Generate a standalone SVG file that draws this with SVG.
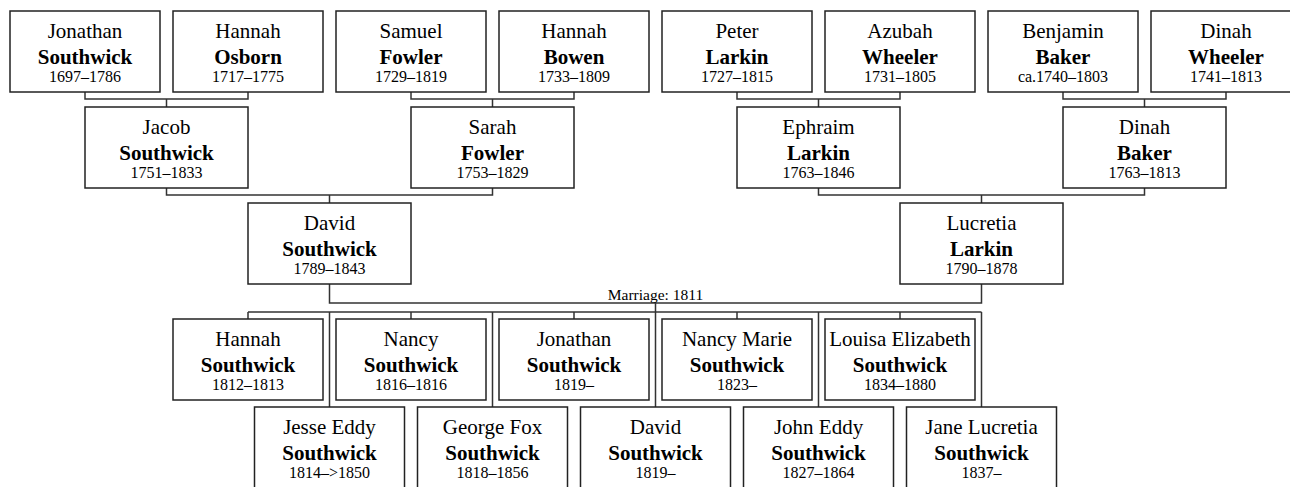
<svg xmlns="http://www.w3.org/2000/svg" width="1290" height="487" viewBox="0 0 1290 487">
<style>
.box{fill:#fff;stroke:#222;stroke-width:1.5}
.ln{fill:none;stroke:#333;stroke-width:1.5}
text{font-family:"Liberation Serif","Times New Roman",serif;fill:#000;text-anchor:middle}
.fn{font-size:21px}
.sn{font-size:21px;font-weight:bold}
.dt{font-size:16px}
.lbl{font-size:15.5px}
</style>
<rect width="1290" height="487" fill="#fff"/>
<g id="connectors">
<path class="ln" d="M85,92V99H248V92M166.5,99V107"/>
<path class="ln" d="M411,92V99H574V92M492.5,99V107"/>
<path class="ln" d="M737,92V99H900V92M818.5,99V107"/>
<path class="ln" d="M1063,92V99H1226V92M1144.5,99V107"/>
<path class="ln" d="M166.5,188V195H492.5V188M329.5,195V203"/>
<path class="ln" d="M818.5,188V195H1144.5V188M981.5,195V203"/>
<path class="ln" d="M329.5,284V303H981.5V284M655.5,303V312"/>
<path class="ln" d="M248,312H981.5"/>
<path class="ln" d="M248,312V319M411,312V319M574,312V319M737,312V319M900,312V319"/>
<path class="ln" d="M329.5,312V407M492.5,312V407M655.5,312V407M818.5,312V407M981.5,312V407"/>
<text class="lbl" x="655.5" y="300">Marriage: 1811</text>
</g>
<g id="n1"><rect class="box" x="10" y="11" width="150" height="81"/><text class="fn" x="85" y="37.5">Jonathan</text><text class="sn" x="85" y="63.5">Southwick</text><text class="dt" x="85" y="82">1697–1786</text></g>
<g id="n2"><rect class="box" x="173" y="11" width="150" height="81"/><text class="fn" x="248" y="37.5">Hannah</text><text class="sn" x="248" y="63.5">Osborn</text><text class="dt" x="248" y="82">1717–1775</text></g>
<g id="n3"><rect class="box" x="336" y="11" width="150" height="81"/><text class="fn" x="411" y="37.5">Samuel</text><text class="sn" x="411" y="63.5">Fowler</text><text class="dt" x="411" y="82">1729–1819</text></g>
<g id="n4"><rect class="box" x="499" y="11" width="150" height="81"/><text class="fn" x="574" y="37.5">Hannah</text><text class="sn" x="574" y="63.5">Bowen</text><text class="dt" x="574" y="82">1733–1809</text></g>
<g id="n5"><rect class="box" x="662" y="11" width="150" height="81"/><text class="fn" x="737" y="37.5">Peter</text><text class="sn" x="737" y="63.5">Larkin</text><text class="dt" x="737" y="82">1727–1815</text></g>
<g id="n6"><rect class="box" x="825" y="11" width="150" height="81"/><text class="fn" x="900" y="37.5">Azubah</text><text class="sn" x="900" y="63.5">Wheeler</text><text class="dt" x="900" y="82">1731–1805</text></g>
<g id="n7"><rect class="box" x="988" y="11" width="150" height="81"/><text class="fn" x="1063" y="37.5">Benjamin</text><text class="sn" x="1063" y="63.5">Baker</text><text class="dt" x="1063" y="82">ca.1740–1803</text></g>
<g id="n8"><rect class="box" x="1151" y="11" width="150" height="81"/><text class="fn" x="1226" y="37.5">Dinah</text><text class="sn" x="1226" y="63.5">Wheeler</text><text class="dt" x="1226" y="82">1741–1813</text></g>
<g id="n9"><rect class="box" x="85" y="107" width="163" height="81"/><text class="fn" x="166.5" y="133.5">Jacob</text><text class="sn" x="166.5" y="159.5">Southwick</text><text class="dt" x="166.5" y="178">1751–1833</text></g>
<g id="n10"><rect class="box" x="411" y="107" width="163" height="81"/><text class="fn" x="492.5" y="133.5">Sarah</text><text class="sn" x="492.5" y="159.5">Fowler</text><text class="dt" x="492.5" y="178">1753–1829</text></g>
<g id="n11"><rect class="box" x="737" y="107" width="163" height="81"/><text class="fn" x="818.5" y="133.5">Ephraim</text><text class="sn" x="818.5" y="159.5">Larkin</text><text class="dt" x="818.5" y="178">1763–1846</text></g>
<g id="n12"><rect class="box" x="1063" y="107" width="163" height="81"/><text class="fn" x="1144.5" y="133.5">Dinah</text><text class="sn" x="1144.5" y="159.5">Baker</text><text class="dt" x="1144.5" y="178">1763–1813</text></g>
<g id="n13"><rect class="box" x="248" y="203" width="163" height="81"/><text class="fn" x="329.5" y="229.5">David</text><text class="sn" x="329.5" y="255.5">Southwick</text><text class="dt" x="329.5" y="274">1789–1843</text></g>
<g id="n14"><rect class="box" x="900" y="203" width="163" height="81"/><text class="fn" x="981.5" y="229.5">Lucretia</text><text class="sn" x="981.5" y="255.5">Larkin</text><text class="dt" x="981.5" y="274">1790–1878</text></g>
<g id="c1"><rect class="box" x="173" y="319" width="150" height="81"/><text class="fn" x="248" y="345.5">Hannah</text><text class="sn" x="248" y="371.5">Southwick</text><text class="dt" x="248" y="390">1812–1813</text></g>
<g id="c2"><rect class="box" x="336" y="319" width="150" height="81"/><text class="fn" x="411" y="345.5">Nancy</text><text class="sn" x="411" y="371.5">Southwick</text><text class="dt" x="411" y="390">1816–1816</text></g>
<g id="c3"><rect class="box" x="499" y="319" width="150" height="81"/><text class="fn" x="574" y="345.5">Jonathan</text><text class="sn" x="574" y="371.5">Southwick</text><text class="dt" x="574" y="390">1819–</text></g>
<g id="c4"><rect class="box" x="662" y="319" width="150" height="81"/><text class="fn" x="737" y="345.5">Nancy Marie</text><text class="sn" x="737" y="371.5">Southwick</text><text class="dt" x="737" y="390">1823–</text></g>
<g id="c5"><rect class="box" x="825" y="319" width="150" height="81"/><text class="fn" x="900" y="345.5">Louisa Elizabeth</text><text class="sn" x="900" y="371.5">Southwick</text><text class="dt" x="900" y="390">1834–1880</text></g>
<g id="c6"><rect class="box" x="254.5" y="407" width="150" height="81"/><text class="fn" x="329.5" y="433.5">Jesse Eddy</text><text class="sn" x="329.5" y="459.5">Southwick</text><text class="dt" x="329.5" y="478">1814–&gt;1850</text></g>
<g id="c7"><rect class="box" x="417.5" y="407" width="150" height="81"/><text class="fn" x="492.5" y="433.5">George Fox</text><text class="sn" x="492.5" y="459.5">Southwick</text><text class="dt" x="492.5" y="478">1818–1856</text></g>
<g id="c8"><rect class="box" x="580.5" y="407" width="150" height="81"/><text class="fn" x="655.5" y="433.5">David</text><text class="sn" x="655.5" y="459.5">Southwick</text><text class="dt" x="655.5" y="478">1819–</text></g>
<g id="c9"><rect class="box" x="743.5" y="407" width="150" height="81"/><text class="fn" x="818.5" y="433.5">John Eddy</text><text class="sn" x="818.5" y="459.5">Southwick</text><text class="dt" x="818.5" y="478">1827–1864</text></g>
<g id="c10"><rect class="box" x="906.5" y="407" width="150" height="81"/><text class="fn" x="981.5" y="433.5">Jane Lucretia</text><text class="sn" x="981.5" y="459.5">Southwick</text><text class="dt" x="981.5" y="478">1837–</text></g>
</svg>
